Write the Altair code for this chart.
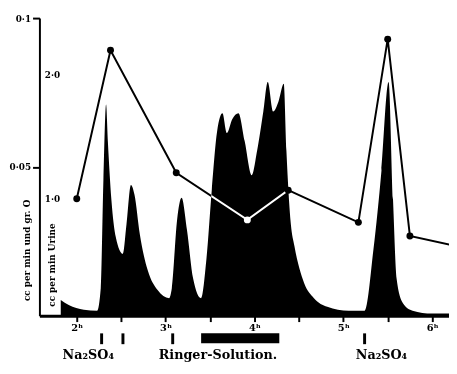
import altair as alt
import pandas as pd

# Black area curve (left scale)
area_hours = [1.82, 1.91, 2.08, 2.23, 2.27, 2.30, 2.33, 2.35, 2.39, 2.44,
              2.52, 2.56, 2.61, 2.65, 2.71, 2.80, 2.91, 3.04, 3.07, 3.13,
              3.18, 3.24, 3.31, 3.40, 3.46, 3.52, 3.58, 3.64, 3.69, 3.75,
              3.82, 3.89, 3.97, 4.03, 4.10, 4.15, 4.21, 4.27, 4.33, 4.36,
              4.41, 4.45, 4.56, 4.67, 4.82, 5.06, 5.24, 5.34, 5.43, 5.51,
              5.56, 5.60, 5.67, 5.78, 6.00, 6.25]
area_values = [0.0053, 0.0036, 0.0020, 0.0017, 0.0092, 0.0455, 0.0710, 0.0587, 0.0390, 0.0264,
               0.0208, 0.0307, 0.0439, 0.0406, 0.0274, 0.0152, 0.0086, 0.0059, 0.0092, 0.0323,
               0.0396, 0.0290, 0.0125, 0.0059, 0.0191, 0.0422, 0.0620, 0.0680, 0.0614, 0.0660,
               0.0680, 0.0587, 0.0472, 0.0554, 0.0686, 0.0785, 0.0686, 0.0719, 0.0779, 0.0554,
               0.0307, 0.0234, 0.0109, 0.0059, 0.0030, 0.0017, 0.0017, 0.0224, 0.0488, 0.0785,
               0.0390, 0.0125, 0.0043, 0.0017, 0.0007, 0.0007]

# Line with points (inner scale)
line_hours = [2.00, 2.38, 3.12, 3.92, 4.38, 5.17, 5.50, 5.75, 6.33]
line_values = [1.00, 2.20, 1.21, 0.83, 1.07, 0.81, 2.29, 0.70, 0.61]

# Annotations below the axis
label_texts = ["Na₂SO₄", "Ringer-Solution.", "Na₂SO₄"]
label_hours = [2.13, 3.59, 5.43]
mark_hours = [2.28, 2.52, 3.08, 5.24]
ringer_start = [3.40]
ringer_end = [4.28]

x_ticks = [2, 2.5, 3, 3.5, 4, 4.5, 5, 5.5, 6]
left_ticks = [0.05, 0.1]
inner_ticks = [1, 2]

W, H = 417, 303
XDOM = [1.58, 6.19]
FONT = "DejaVu Serif"

area_df = pd.DataFrame({"h": area_hours, "v": area_values})
line_df = pd.DataFrame({"h": line_hours, "u": line_values})
lab_df = pd.DataFrame({"h": label_hours, "t": label_texts})
mk_df = pd.DataFrame({"h": mark_hours})
bar_df = pd.DataFrame({"h": ringer_start, "h2": ringer_end})
bg_df = pd.DataFrame({"k": [0]})

xscale = alt.Scale(domain=XDOM, nice=False, zero=False)

xaxis = alt.Axis(values=x_ticks, title=None, grid=False, zindex=1,
                 labelExpr="datum.value % 1 == 0 ? datum.value + 'ʰ' : ''",
                 domainWidth=3, domainColor="black", tickColor="black",
                 tickWidth=2, tickSize=6, labelFont=FONT, labelFontSize=10,
                 labelFontWeight="bold", labelColor="black", labelPadding=1)

# white backdrop so that the difference-blended line shows black on white
bg = alt.Chart(bg_df).mark_rect(color="white").encode(
    x=alt.value(0), x2=alt.value(W), y=alt.value(0), y2=alt.value(H),
)

area = alt.Chart(area_df).mark_area(color="black", interpolate="monotone").encode(
    x=alt.X("h:Q", scale=xscale, axis=xaxis),
    y=alt.Y("v:Q", scale=alt.Scale(domain=[0, 0.1], nice=False),
            axis=alt.Axis(orient="left", values=left_ticks, grid=False, zindex=1,
                          labelExpr="replace(format(datum.value, '.2~f'), '.', '·')",
                          domainWidth=2, domainColor="black", tickColor="black",
                          tickWidth=2, tickSize=7, labelFont=FONT, labelFontSize=9,
                          labelFontWeight="bold", labelColor="black",
                          title="cc per min und gr. O", titleFont=FONT,
                          titleFontSize=9, titleFontWeight="bold", titleColor="black",
                          titleX=-13, titleY=236, titleAngle=270,
                          titleAlign="center", titleBaseline="middle")),
)

yinner = alt.Scale(domain=[0.056, 2.46], nice=False, zero=False)
inner_axis = alt.Axis(orient="right", offset=-W, values=inner_ticks, grid=False,
                      domain=False, ticks=False, labelPadding=5, zindex=1,
                      labelExpr="replace(format(datum.value, '.1f'), '.', '·')",
                      labelFont=FONT, labelFontSize=9, labelFontWeight="bold",
                      labelColor="black",
                      title="cc per min Urine", titleFont=FONT, titleFontSize=9,
                      titleFontWeight="bold", titleColor="black",
                      titleX=12, titleY=251, titleAngle=270,
                      titleAlign="center", titleBaseline="middle")

line = alt.Chart(line_df).mark_line(color="white", strokeWidth=2, blend="difference").encode(
    x=alt.X("h:Q", scale=xscale),
    y=alt.Y("u:Q", scale=yinner, axis=inner_axis),
)

points = alt.Chart(line_df).mark_circle(size=50, opacity=1).encode(
    x=alt.X("h:Q", scale=xscale),
    y=alt.Y("u:Q", scale=yinner, axis=None),
    color=alt.condition("datum.h > 3.5 && datum.h < 4.3", alt.value("white"), alt.value("black")),
)

labels = alt.Chart(lab_df).mark_text(font=FONT, fontSize=13, fontWeight="bold",
                                     color="black", baseline="middle").encode(
    x=alt.X("h:Q", scale=xscale),
    y=alt.value(H + 40),
    text="t:N",
)

marks = alt.Chart(mk_df).mark_rule(color="black", strokeWidth=3).encode(
    x=alt.X("h:Q", scale=xscale),
    y=alt.value(H + 18),
    y2=alt.value(H + 29),
)

bar = alt.Chart(bar_df).mark_rect(color="black").encode(
    x=alt.X("h:Q", scale=xscale),
    x2="h2:Q",
    y=alt.value(H + 18),
    y2=alt.value(H + 28),
)

chart = alt.layer(bg, area, line, points, marks, bar, labels).resolve_scale(
    y="independent"
).properties(
    width=W, height=H,
    autosize=alt.AutoSizeParams(type="none"),
    padding={"left": 32, "top": 7, "right": 0, "bottom": 51},
).configure_view(stroke=None)

chart.save("out.html", embed_options={"renderer": "svg", "actions": False})
